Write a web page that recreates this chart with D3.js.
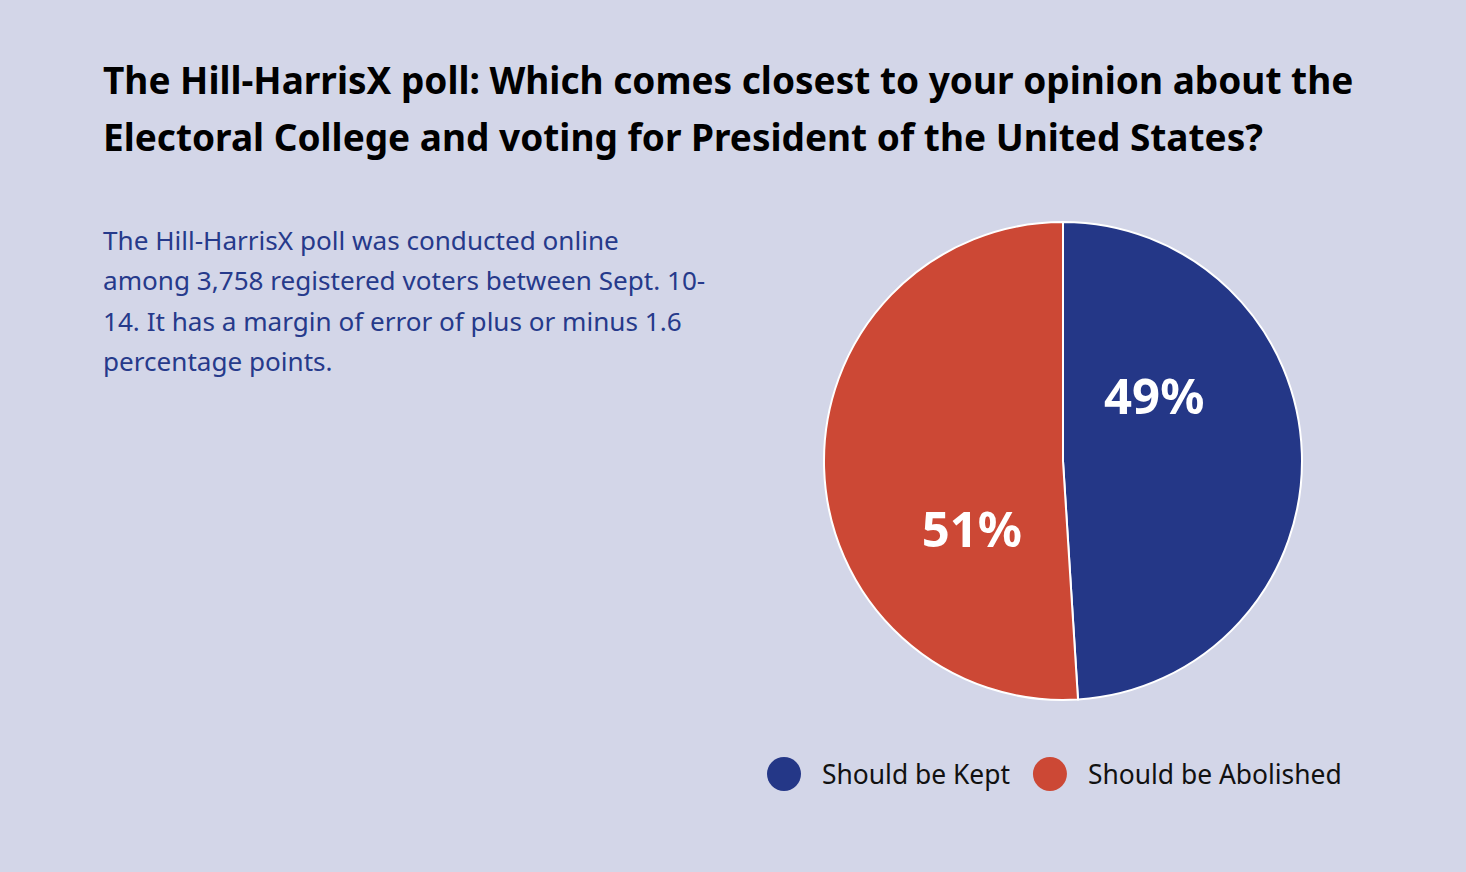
<!DOCTYPE html>
<html>
<head>
<meta charset="utf-8">
<script src="https://cdn.jsdelivr.net/npm/d3@7"></script>
<style>
  body { margin: 0; background: #d3d6e8; }
  svg { display: block; font-family: "Noto Sans", sans-serif; }
</style>
</head>
<body>
<div id="chart"></div>
<script>
// Data
const categories = ["Should be Kept", "Should be Abolished"];
const values = [49, 51];
const colors = ["#243787", "#cc4835"];

const titleLines = [
  "The Hill-HarrisX poll: Which comes closest to your opinion about the",
  "Electoral College and voting for President of the United States?"
];
const noteLines = [
  "The Hill-HarrisX poll was conducted online",
  "among 3,758 registered voters between Sept. 10-",
  "14. It has a margin of error of plus or minus 1.6",
  "percentage points."
];

const width = 1466, height = 872;

const svg = d3.select("#chart")
  .append("svg")
  .attr("width", width)
  .attr("height", height);

svg.append("rect")
  .attr("width", width)
  .attr("height", height)
  .attr("fill", "#d3d6e8");

// Title
svg.append("g")
  .selectAll("text")
  .data(titleLines)
  .enter().append("text")
  .attr("x", 103)
  .attr("y", (d, i) => 94 + i * 57)
  .attr("font-size", 37)
  .attr("font-weight", 700)
  .attr("fill", "#000")
  .text(d => d);

// Note text
svg.append("g")
  .selectAll("text")
  .data(noteLines)
  .enter().append("text")
  .attr("x", 103)
  .attr("y", (d, i) => 250 + i * 40.3)
  .attr("font-size", 26.1)
  .attr("fill", "#263a8b")
  .text(d => d);

// Pie
const cx = 1063, cy = 461, radius = 239;
const pieData = d3.pie().sort(null)(values);

const arc = d3.arc().innerRadius(0).outerRadius(radius);
const g = svg.append("g").attr("transform", `translate(${cx},${cy})`);

g.selectAll("path")
  .data(pieData)
  .enter().append("path")
  .attr("d", arc)
  .attr("fill", (d, i) => colors[i])
  .attr("stroke", "#fff")
  .attr("stroke-width", 2);

// Labels (placed a bit counter-clockwise of each slice's middle)
const labelR = 113, labelShift = -0.6;
g.selectAll(".lbl")
  .data(pieData)
  .enter().append("text")
  .attr("class", "lbl")
  .attr("transform", d => {
    const a = (d.startAngle + d.endAngle) / 2 + labelShift;
    return `translate(${Math.sin(a) * labelR},${-Math.cos(a) * labelR})`;
  })
  .attr("text-anchor", "middle")
  .attr("dy", "0.4em")
  .attr("font-size", 49)
  .attr("font-weight", 700)
  .attr("fill", "#fff")
  .text(d => d.data + "%");

// Legend
const legend = svg.append("g").attr("transform", "translate(767,774)");
let lx = 0;
categories.forEach((c, i) => {
  const item = legend.append("g").attr("transform", `translate(${lx},0)`);
  item.append("circle")
    .attr("cx", 17)
    .attr("cy", 0)
    .attr("r", 17)
    .attr("fill", colors[i]);
  const t = item.append("text")
    .attr("x", 55)
    .attr("dy", "0.36em")
    .attr("font-size", 26.4)
    .attr("fill", "#111")
    .text(c);
  lx += 55 + t.node().getComputedTextLength() + 23;
});
</script>
</body>
</html>
